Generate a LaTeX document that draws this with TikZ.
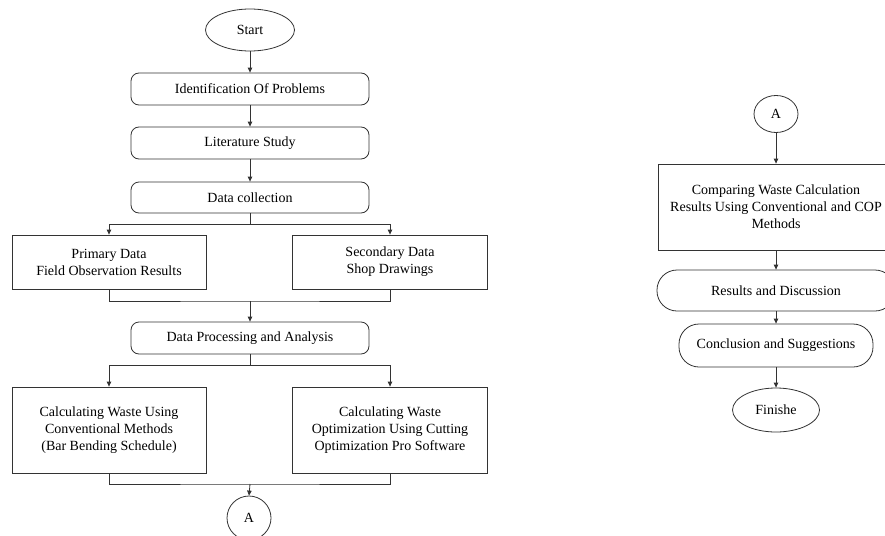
\documentclass[tikz,border=0pt]{standalone}
\usepackage{fontspec}
\setmainfont{Liberation Serif}
\usetikzlibrary{shapes.geometric,arrows.meta}
\definecolor{ln}{HTML}{333333}
\tikzset{
  base/.style={draw=ln, line width=0.8pt, align=center, inner sep=1pt, font=\fontsize{14}{17}\selectfont, text=black},
  rbox/.style={base, rounded corners=8pt, minimum width=238pt, minimum height=32pt},
  sbox/.style={base, minimum width=194pt},
  pill/.style={base, rounded corners=20pt, minimum height=42pt},
  oval/.style={base, ellipse},
  arr/.style={draw=ln, line width=0.8pt, -{Triangle[length=5pt,width=4.5pt]}},
  ln/.style={draw=ln, line width=0.8pt}
}
\begin{document}
\begin{tikzpicture}[x=1pt,y=-1pt]
\clip (0,0) rectangle (885,535);
\fill[white] (0,0) rectangle (885,535);
% left column
\node[oval, minimum width=89pt, minimum height=42pt] (start) at (250,30) {Start};
\node[rbox] (ident) at (250,89) {Identification Of Problems};
\node[rbox] (lit) at (250,143) {Literature Study};
\node[rbox, minimum height=31pt] (dc) at (250,197.5) {Data collection};
\node[sbox, minimum height=54pt] (prim) at (109,262) {Primary Data\\Field Observation Results};
\node[sbox, minimum width=195pt, minimum height=54pt] (sec) at (390,262) {Secondary Data\\Shop Drawings};
\node[rbox] (dpa) at (250,338) {Data Processing and Analysis};
\node[sbox, minimum height=86pt] (c1) at (109,430) {Calculating Waste Using\\Conventional Methods\\(Bar Bending Schedule)};
\node[sbox, minimum width=195pt, minimum height=86pt] (c2) at (390,430) {Calculating Waste\\Optimization Using Cutting\\Optimization Pro Software};
\node[oval, minimum width=44pt, minimum height=44pt] (a1) at (249,518) {A};
\coordinate (b1) at (250,224);
\coordinate (m1) at (250,301);
\coordinate (b2) at (250,365);
\coordinate (m2) at (250,484);
\draw[arr] (start) -- (ident);
\draw[arr] (ident) -- (lit);
\draw[arr] (lit) -- (dc);
\draw[ln] (dc.south) -- (b1);
\draw[arr] (b1) -| (prim.north);
\draw[arr] (b1) -| (sec.north);
\draw[ln] (prim.south) |- (m1) -| (sec.south);
\draw[arr] (m1) -- (dpa.north);
\draw[ln] (dpa.south) -- (b2);
\draw[arr] (b2) -| (c1.north);
\draw[arr] (b2) -| (c2.north);
\draw[ln] (c1.south) |- (m2) -| (c2.south);
\draw[arr] (m2) -- (a1.north);
% right column
\node[oval, minimum width=44pt, minimum height=37pt] (a2) at (776,114) {A};
\node[sbox, minimum width=236pt, minimum height=86pt] (comp) at (776,207) {Comparing Waste Calculation\\Results Using Conventional and COP\\Methods};
\node[pill, minimum width=238pt, minimum height=41pt] (res) at (776,290.5) {Results and Discussion};
\node[pill, minimum width=194pt, minimum height=43pt] (conc) at (776,345.5) {Conclusion and Suggestions};
\node[oval, minimum width=87pt, minimum height=44pt] (fin) at (776,410) {Finishe};
\draw[arr] (a2) -- (comp);
\draw[arr] (comp) -- (res);
\draw[arr] (res) -- (conc);
\draw[arr] (conc) -- (fin);
\end{tikzpicture}
\end{document}
